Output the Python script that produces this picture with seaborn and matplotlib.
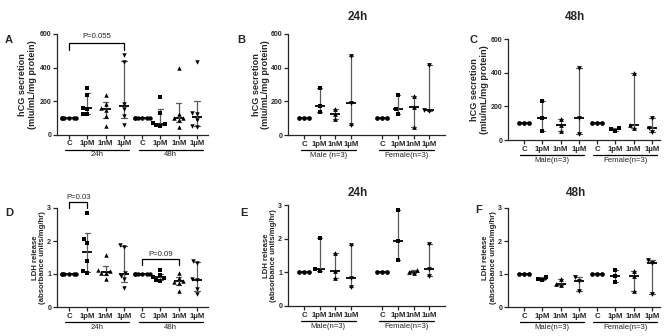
import warnings
import numpy as np
import pandas as pd
import seaborn as sns
import matplotlib.pyplot as plt
import matplotlib.transforms as mtransforms

warnings.filterwarnings("ignore")

# dose order used in every group
doses = ["C", "1pM", "1nM", "1μM"]
doses_uM = ["C", "1pM", "1nM", "1uM"]

# A: hCG secretion, pooled (n=6), one list per dose
a_24h = [[100] * 6, [125, 125, 155, 160, 236, 276], [50, 112, 146, 156, 180, 236], [56, 112, 150, 185, 430, 472]]
a_48h = [[100] * 6, [52, 56, 62, 66, 126, 226], [46, 86, 96, 100, 120, 396], [46, 52, 86, 120, 126, 430]]

# B: hCG 24h by sex (n=3)
b_male = [[100] * 3, [137, 172, 279], [95, 127, 156], [60, 192, 470]]
b_female = [[100] * 3, [127, 152, 238], [48, 166, 234], [142, 148, 418]]

# C: hCG 48h by sex (n=3)
c_male = [[100] * 3, [56, 128, 232], [55, 92, 126], [35, 130, 430]]
c_female = [[100] * 3, [55, 65, 73], [70, 88, 396], [48, 70, 128]]

# D: LDH release, pooled (n=6)
d_24h = [[1.0] * 6, [1.02, 1.09, 1.39, 1.95, 2.05, 2.86], [0.85, 1.02, 1.04, 1.09, 1.12, 1.58], [0.57, 0.84, 0.95, 1.03, 1.83, 1.88]]
d_48h = [[1.0] * 6, [0.80, 0.82, 0.88, 0.92, 0.97, 1.12], [0.49, 0.72, 0.75, 0.80, 0.87, 1.04], [0.38, 0.54, 0.82, 0.84, 1.34, 1.40]]

# E: LDH 24h by sex (n=3)
e_male = [[1.0] * 3, [1.04, 1.10, 2.02], [0.84, 1.05, 1.56], [0.55, 0.83, 1.81]]
e_female = [[1.0] * 3, [1.37, 1.94, 2.84], [0.98, 1.00, 1.08], [0.90, 1.10, 1.85]]

# F: LDH 48h by sex (n=3)
f_male = [[1.0] * 3, [0.82, 0.86, 0.92], [0.66, 0.69, 0.86], [0.48, 0.80, 0.90]]
f_female = [[1.0] * 3, [0.76, 0.93, 1.12], [0.48, 0.93, 1.08], [0.40, 1.33, 1.41]]

markers = {"C": "o", "1pM": "s", "1nM": "^", "1μM": "v"}


def iqr(v):
    return tuple(np.percentile(v, [25, 75], method="weibull"))


def full_range(v):
    return (np.min(v), np.max(v))


sns.set_style("ticks")
plt.rcParams["font.family"] = ["Liberation Sans", "DejaVu Sans"]
plt.rcParams["axes.linewidth"] = 0.9

fig = plt.figure(figsize=(6.66, 3.36), dpi=100)


def make_axes(l, r, t, b):
    return fig.add_axes([l / 666, 1 - b / 336, (r - l) / 666, (b - t) / 336])


def panel(ax, groups, names, ticklabels, err, ylim, yticks, spacer, xlim, ylab, ylab_size, ylab_x, size):
    rows = []
    for gname, grp in zip(names, groups):
        for dose, vals in zip(doses, grp):
            for v in vals:
                rows.append((dose + "|" + gname, dose, v))
    df = pd.DataFrame(rows, columns=["key", "dose", "value"])

    order = [d + "|" + names[0] for d in doses]
    if spacer:
        order.append("gap")
    order += [d + "|" + names[1] for d in doses]

    for dose in doses:
        sns.swarmplot(data=df[df["dose"] == dose], x="key", y="value", order=order,
                      color="black", marker=markers[dose], size=size, ax=ax)
    sns.pointplot(data=df, x="key", y="value", order=order, estimator=np.median,
                  errorbar=err, color="black", marker="_", markersize=7.5,
                  markeredgewidth=1.3, linestyle="none", capsize=0.3,
                  err_kws={"color": "#5a5a5a", "linewidth": 0.9}, ax=ax)

    pos = [i for i, k in enumerate(order) if k != "gap"]
    ax.set_xticks(pos, ticklabels * 2, fontsize=5.6, fontweight="bold")
    ax.set_yticks(yticks)
    ax.set_yticklabels([str(t) for t in yticks], fontsize=5.0, fontweight="bold")
    ax.set_xlim(*xlim)
    ax.set_ylim(*ylim)
    ax.tick_params(length=3, width=0.9, pad=1.2)
    ax.set_xlabel("")
    ax.set_ylabel(ylab, fontsize=ylab_size, fontweight="bold", linespacing=1.1)
    ax.yaxis.set_label_coords(ylab_x, 0.5)
    sns.despine(ax=ax)

    # group underlines and labels
    h_px = ax.get_position().height * 336
    trans = mtransforms.blended_transform_factory(ax.transData, ax.transAxes)
    y_line = -15 / h_px
    for gi, gname in enumerate(names):
        p = pos[gi * 4:(gi + 1) * 4]
        x0, x1 = p[0] - 0.2, p[-1] + 0.3
        ax.plot([x0, x1], [y_line, y_line], color="black", lw=0.9, transform=trans, clip_on=False)
        ax.text((x0 + x1) / 2, y_line - 2 / h_px, gname,
                transform=trans, ha="center", va="top", fontsize=5.6)
    return pos


def bracket(ax, x0, x1, y_top, y_leg, text, ty):
    ax.plot([x0, x0, x1, x1], [y_leg, y_top, y_top, y_leg], color="black", lw=0.9, clip_on=False)
    ax.text((x0 + x1) / 2, ty, text, ha="center", va="bottom", fontsize=5.6)


hcg_label = "hCG secretion\n(mIu/mL/mg protein)"
ldh_label = "LDH release\n(absorbance units/mg/hr)"

axA = make_axes(57, 208, 34, 134.5)
panel(axA, [a_24h, a_48h], ["24h", "48h"], doses, iqr, (0, 600), [0, 200, 400, 600],
      False, (-0.66, 7.6), hcg_label, 6.6, -0.135, 3.2)
bracket(axA, 0, 3, 546, 504, "P=0.055", 562)

axB = make_axes(288, 445, 34, 135)
panel(axB, [b_male, b_female], ["Male (n=3)", "Female(n=3)"], doses, full_range, (0, 600),
      [0, 200, 400, 600], True, (-1.02, 9.0), hcg_label, 6.6, -0.112, 3.4)

axC = make_axes(508, 660, 39, 140)
panel(axC, [c_male, c_female], ["Male(n=3)", "Female(n=3)"], doses, full_range, (0, 600),
      [0, 200, 400, 600], False, (-0.875, 7.44), hcg_label, 6.6, -0.125, 3.4)

axD = make_axes(57, 208, 208, 307)
panel(axD, [d_24h, d_48h], ["24h", "48h"], doses, iqr, (0, 3), [0, 1, 2, 3],
      False, (-0.66, 7.6), ldh_label, 5.6, -0.072, 3.2)
bracket(axD, 0, 1, 3.18, 3.0, "P=0.03", 3.2)
bracket(axD, 4, 6, 1.45, 1.27, "P=0.09", 1.47)

axE = make_axes(288, 445, 205, 306)
panel(axE, [e_male, e_female], ["Male(n=3)", "Female(n=3)"], doses_uM, full_range, (0, 3),
      [0, 1, 2, 3], True, (-1.02, 9.0), ldh_label, 5.6, -0.07, 3.4)

axF = make_axes(508, 660, 208, 307)
panel(axF, [f_male, f_female], ["Male(n=3)", "Female(n=3)"], doses, full_range, (0, 3),
      [0, 1, 2, 3], False, (-0.875, 7.44), ldh_label, 5.6, -0.075, 3.4)

# panel letters and time titles
for letter, x, y in [("A", 5, 40), ("B", 237, 40), ("C", 470, 40),
                     ("D", 5, 213), ("E", 240, 213), ("F", 475, 210)]:
    fig.text(x / 666, 1 - y / 336, letter, fontsize=8, fontweight="bold", ha="left", va="center")
for title, x, y in [("24h", 358, 17), ("48h", 575, 17), ("24h", 358, 193), ("48h", 576, 193)]:
    fig.text(x / 666, 1 - y / 336, title, fontsize=8.5, fontweight="bold", ha="center", va="center")

fig.savefig("out.png", dpi=100, facecolor="white")
